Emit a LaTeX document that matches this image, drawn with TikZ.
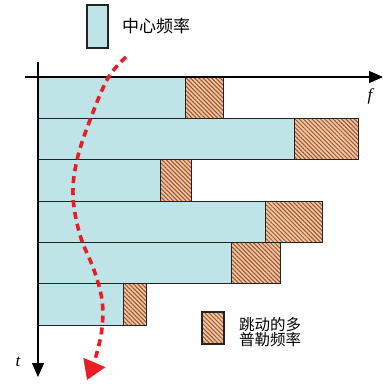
\documentclass[tikz,border=0pt]{standalone}
\usepackage{fontspec}
\newfontfamily\cjk{Noto Sans CJK SC}
\newfontfamily\tms{Liberation Serif}
\usetikzlibrary{patterns.meta,arrows.meta}
\definecolor{cyanfill}{RGB}{190,228,232}
\definecolor{tanfill}{RGB}{244,196,160}
\definecolor{hatchc}{RGB}{150,85,50}
\definecolor{redc}{RGB}{232,30,36}
\definecolor{edgec}{RGB}{35,35,35}
\tikzset{
  cbar/.style={fill=cyanfill, draw=edgec, line width=1pt},
  hbar/.style={preaction={fill=tanfill}, pattern={Lines[angle=-45,distance=3pt,line width=1pt]}, pattern color=hatchc, draw=edgec, line width=1pt},
  axisline/.style={line width=1.2pt, -{Triangle[length=14pt,width=12pt]}},
  cjklbl/.style={inner sep=0pt, anchor=west, align=left},
  axlbl/.style={inner sep=0pt, font=\tms\itshape\fontsize{17}{17}\selectfont},
  dopcurve/.style={redc, line width=3.6pt, dash pattern=on 7pt off 5pt, -{Triangle[length=19pt,width=23pt]}},
}
\begin{document}
\begin{tikzpicture}[x=1pt,y=-1pt]
\useasboundingbox (0,0) rectangle (383,384);
% bars
\foreach \yt/\yb/\c/\h in {77/118.3/185/223, 118.3/159.7/294/358, 159.7/201/160/191, 201/242.3/265/322, 242.3/283.7/231/280, 283.7/325/123/146}{
  \draw[cbar] (38,\yt) rectangle (\c,\yb);
  \draw[hbar] (\c,\yt) rectangle (\h,\yb);
}
% axes
\coordinate (hx0) at (25,77);
\coordinate (hx1) at (383,77);
\coordinate (vy0) at (38,62);
\coordinate (vy1) at (38,377);
\draw[axisline] (hx0) -- (hx1);
\draw[axisline] (vy0) -- (vy1);
\node[axlbl] (flbl) at (370,96) {f};
\node[axlbl] (tlbl) at (18,362) {t};
% red shift curve
\draw[dopcurve] plot[smooth, tension=0.6] coordinates {(126,57) (108,78) (90,120) (77,160) (73,196) (80,235) (94,270) (102,300) (102,328) (96,356) (87,380)};
% legends
\draw[cbar, line width=1.5pt] (87,5) rectangle (108,48);
\node[cjklbl, font=\cjk\fontsize{17}{17}\selectfont] (lg1) at (122,26) {中心频率};
\draw[hbar, line width=1.3pt] (202,312) rectangle (224,344);
\node[cjklbl, font=\cjk\fontsize{15.5}{15.5}\selectfont] (lg2) at (239,332) {跳动的多\\普勒频率};
\end{tikzpicture}
\end{document}
